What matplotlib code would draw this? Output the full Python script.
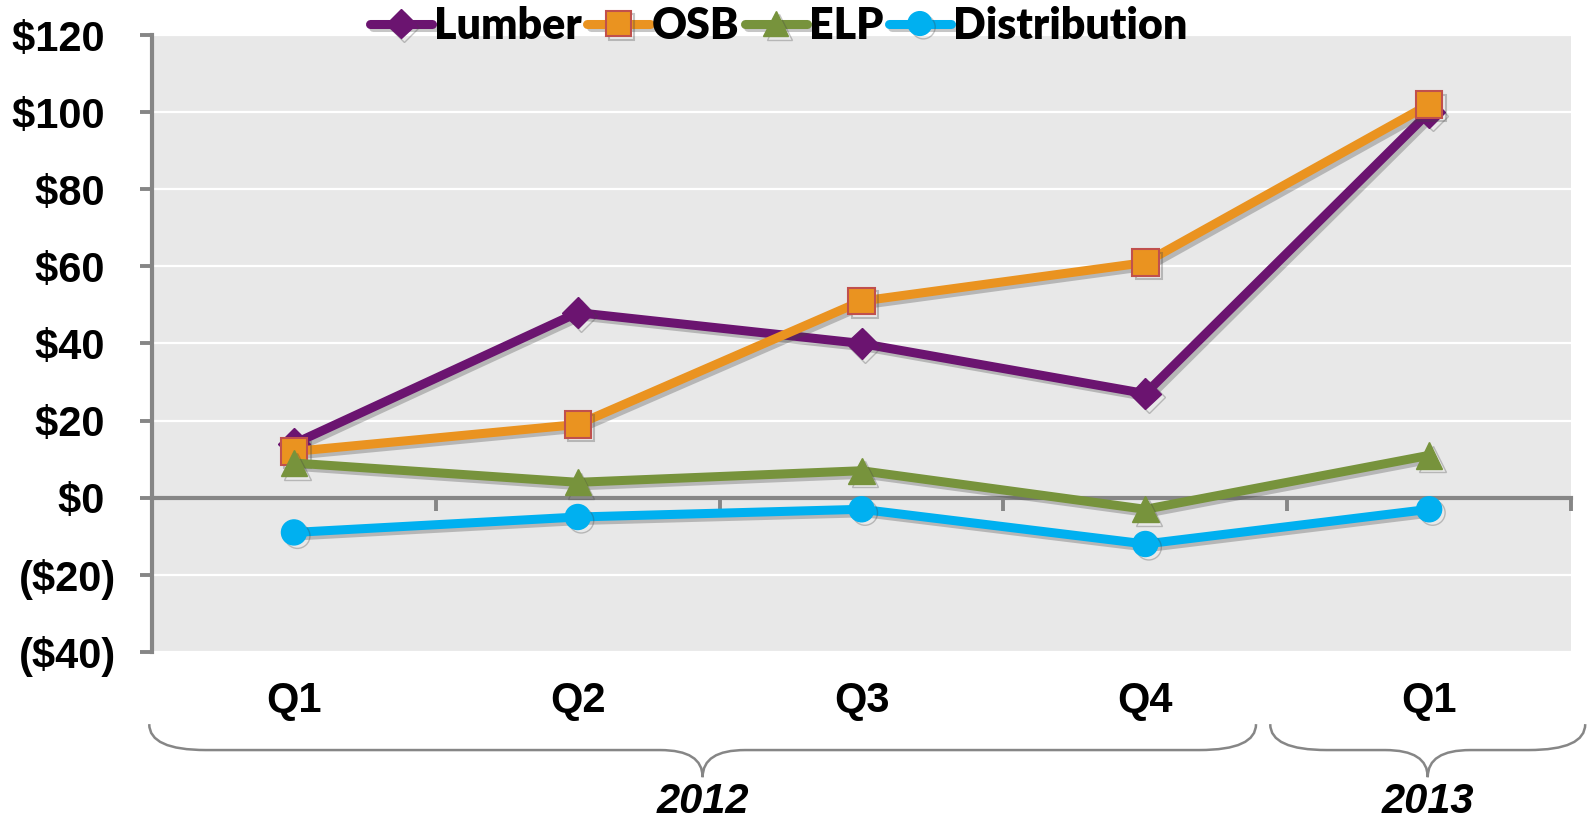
import matplotlib
matplotlib.use("Agg")
import matplotlib.pyplot as plt
import matplotlib.patheffects as pe
import matplotlib.transforms as mtransforms
from matplotlib.path import Path
from matplotlib.patches import PathPatch

# values ($ millions, by quarter)
quarters = ["Q1", "Q2", "Q3", "Q4", "Q1"]
years = ["2012", "2013"]
year_spans = [(-0.51, 3.39), (3.44, 4.55)]
lumber = [14, 48, 40, 27, 100]
osb = [12, 19, 51, 61, 102]
elp = [9, 4, 7, -3, 11]
distribution = [-9, -5, -3, -12, -3]
y_ticks = [-40, -20, 0, 20, 40, 60, 80, 100, 120]
y_labels = ["($40)", "($20)", "$0 ", "$20 ", "$40 ", "$60 ", "$80 ", "$100 ", "$120 "]

AXIS_GRAY = "#868686"
LABEL_FONT = "Liberation Sans"
LABEL_SIZE = 30

fig = plt.figure(figsize=(15.89, 8.26), dpi=100)
ax = fig.add_axes([0.0957, 0.2107, 0.893, 0.7469])
ax.set_facecolor("#E8E8E8")

x = list(range(len(quarters)))
shadow = [pe.SimpleLineShadow(offset=(2.5, -2.5), shadow_color="#444444", alpha=0.3), pe.Normal()]

series = [
    ("Lumber", lumber, dict(color="#6B1470", marker="D", markersize=16, markeredgecolor="#6B1470")),
    ("OSB", osb, dict(color="#EA9320", marker="s", markersize=19, markeredgecolor="#C0504D", markeredgewidth=1.5)),
    ("ELP", elp, dict(color="#77933C", marker="^", markersize=19, markeredgecolor="#77933C")),
    ("Distribution", distribution, dict(color="#00B0F0", marker="o", markersize=18, markeredgecolor="#00B0F0")),
]
for i, (name, vals, style) in enumerate(series):
    ax.plot(x, vals, linewidth=6.5, label=name, zorder=3 + i, path_effects=shadow,
            solid_capstyle="round", **style)

ax.set_xlim(-0.5, len(quarters) - 0.5)
ax.set_ylim(-40, 120)
ax.set_yticks(y_ticks)
ax.set_yticklabels(y_labels, fontfamily=LABEL_FONT, fontweight="bold", fontsize=LABEL_SIZE)
ax.yaxis.grid(True, color="white", linewidth=1.6)
ax.set_axisbelow(True)

ax.set_xticks([i + 0.5 for i in x])
ax.set_xticklabels([])
ax.tick_params(axis="x", direction="out", length=9, width=2.8, color=AXIS_GRAY)
ax.tick_params(axis="y", direction="out", length=9, width=2.8, color=AXIS_GRAY, pad=17)

for side in ["top", "right"]:
    ax.spines[side].set_visible(False)
ax.spines["left"].set_color(AXIS_GRAY)
ax.spines["left"].set_linewidth(3)
ax.spines["bottom"].set_position(("data", 0))
ax.spines["bottom"].set_color(AXIS_GRAY)
ax.spines["bottom"].set_linewidth(3)
ax.spines["bottom"].set_zorder(2.5)

# category labels below the plot
trans = mtransforms.blended_transform_factory(ax.transData, ax.transAxes)
for xi, q in zip(x, quarters):
    ax.text(xi, -0.08, q, transform=trans, ha="center", va="center",
            fontfamily=LABEL_FONT, fontweight="bold", fontsize=LABEL_SIZE)


def brace(x0, x1, y_top=-0.117, y_mid=-0.159, y_tip=-0.203, r_end=0.2, r_mid=0.15):
    xm = (x0 + x1) / 2
    verts = [
        (x0, y_top), (x0, y_mid), (x0 + r_end, y_mid),
        (xm - r_mid, y_mid),
        (xm, y_mid), (xm, y_tip),
        (xm, y_mid), (xm + r_mid, y_mid),
        (x1 - r_end, y_mid),
        (x1, y_mid), (x1, y_top),
    ]
    codes = [Path.MOVETO, Path.CURVE3, Path.CURVE3, Path.LINETO,
             Path.CURVE3, Path.CURVE3, Path.CURVE3, Path.CURVE3,
             Path.LINETO, Path.CURVE3, Path.CURVE3]
    ax.add_patch(PathPatch(Path(verts, codes), facecolor="none", edgecolor=AXIS_GRAY,
                           linewidth=1.8, transform=trans, clip_on=False))
    return xm


for yr, (x0, x1) in zip(years, year_spans):
    xm = brace(x0, x1)
    ax.text(xm, -0.243, yr, transform=trans, ha="center", va="center",
            fontfamily=LABEL_FONT, fontweight="bold", fontstyle="italic", fontsize=LABEL_SIZE)

fig.legend(loc="center", bbox_to_anchor=(0.49, 0.969), ncol=4, frameon=False,
           prop=dict(family="Lato", weight="heavy", size=31),
           handlelength=1.45, handletextpad=0.05, columnspacing=0.12,
           numpoints=1, markerscale=0.95, borderaxespad=0)

fig.savefig("out.png", dpi=100)
